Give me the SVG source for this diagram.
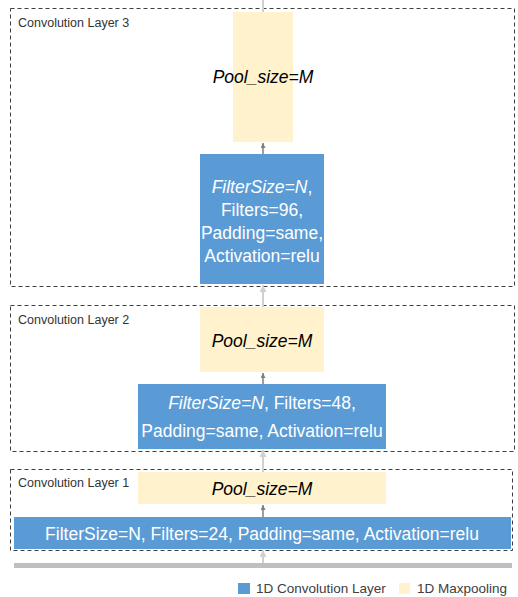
<svg xmlns="http://www.w3.org/2000/svg" width="518" height="597" viewBox="0 0 518 597">
<style>
.frame{fill:none;stroke:#404040;stroke-width:1;stroke-dasharray:4 3}
.conv{fill:#5b9bd5}
.pool{fill:#fff2cc}
.lbl{font-family:"Liberation Sans",Arial,sans-serif;font-size:12.5px;fill:#333}
.ct{font-family:"Liberation Sans",Arial,sans-serif;font-size:17.5px;fill:#fff;text-anchor:middle}
.pt{font-family:"Liberation Sans",Arial,sans-serif;font-size:17.5px;fill:#000;text-anchor:middle;font-style:italic}
.dk{stroke:#7f7f7f;stroke-width:1.5;fill:none;marker-end:url(#ad)}
.lt{stroke:#d0d0d0;stroke-width:2;fill:none;marker-end:url(#al)}
.leg{font-family:"Liberation Sans",Arial,sans-serif;font-size:13.5px;fill:#404040}
</style>
<defs>
<marker id="ad" viewBox="0 0 10 10" refX="10" refY="5" markerWidth="5" markerHeight="5" orient="auto" markerUnits="userSpaceOnUse"><path d="M0,0L10,5L0,10z" fill="#7f7f7f"/></marker>
<marker id="al" viewBox="0 0 10 10" refX="10" refY="5" markerWidth="7" markerHeight="7" orient="auto" markerUnits="userSpaceOnUse"><path d="M0,0L10,5L0,10z" fill="#d0d0d0"/></marker>
</defs>
<rect width="518" height="597" fill="#fff"/>
<g id="frames">
<rect class="frame" x="10.5" y="8.5" width="504" height="278"/>
<text class="lbl" x="18" y="27">Convolution Layer 3</text>
<rect class="frame" x="10.5" y="305.5" width="504" height="146"/>
<text class="lbl" x="18" y="324">Convolution Layer 2</text>
<rect class="frame" x="10.5" y="469.5" width="502" height="81"/>
<text class="lbl" x="18" y="487">Convolution Layer 1</text>
</g>
<g id="connectors">
<line class="lt" x1="263" y1="12" x2="263" y2="0" style="marker-end:none"/>
<line class="dk" x1="263" y1="154" x2="263" y2="143"/>
<line class="lt" x1="263" y1="307" x2="263" y2="285"/>
<line class="dk" x1="263" y1="384" x2="263" y2="373"/>
<line class="lt" x1="263" y1="472" x2="263" y2="450"/>
<line class="dk" x1="263" y1="517" x2="263" y2="505"/>
<line class="lt" x1="263" y1="563" x2="263" y2="550"/>
</g>
<g id="pool3"><rect class="pool" x="233" y="12" width="60" height="130"/><text class="pt" x="263" y="83">Pool_size=M</text></g>
<g id="conv3"><rect class="conv" x="200" y="154" width="124" height="130"/>
<text class="ct" x="262" y="193"><tspan font-style="italic">FilterSize=N</tspan>,</text>
<text class="ct" x="262" y="216">Filters=96,</text>
<text class="ct" x="262" y="239">Padding=same,</text>
<text class="ct" x="262" y="262">Activation=relu</text></g>
<g id="pool2"><rect class="pool" x="200" y="307" width="124" height="65"/><text class="pt" x="262" y="347">Pool_size=M</text></g>
<g id="conv2"><rect class="conv" x="138" y="384" width="248" height="65"/>
<text class="ct" x="262" y="409"><tspan font-style="italic">FilterSize=N</tspan>, Filters=48,</text>
<text class="ct" x="262" y="437">Padding=same, Activation=relu</text></g>
<g id="pool1"><rect class="pool" x="138" y="472" width="248" height="32"/><text class="pt" x="262" y="495">Pool_size=M</text></g>
<g id="conv1"><rect class="conv" x="14" y="517" width="497" height="32"/>
<text class="ct" x="262" y="540">FilterSize=N, Filters=24, Padding=same, Activation=relu</text></g>
<g id="input"><rect x="14" y="563" width="498" height="5" fill="#bfbfbf"/></g>
<g id="legend">
<rect class="conv" x="238" y="583" width="12" height="11"/>
<text class="leg" x="256" y="593">1D Convolution Layer</text>
<rect class="pool" x="399" y="583" width="11" height="11"/>
<text class="leg" x="417" y="593">1D Maxpooling</text>
</g>
</svg>
